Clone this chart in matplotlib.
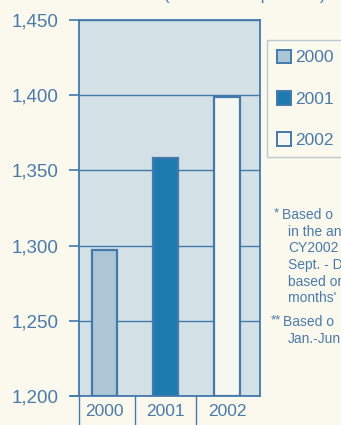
import matplotlib.pyplot as plt
from matplotlib.patches import Patch

years = ['2000', '2001', '2002']
values = [1297, 1358, 1399]
yticks = [1200, 1250, 1300, 1350, 1400, 1450]
# footnotes, as much as shows before the right edge
notes = ['Based o', 'in the an', 'CY2002', 'Sept. - D', 'based or', "months' r"]
notes2 = ['Based o', 'Jan.-Jun']

blue = '#4479ac'
txt = '#4b7aa9'
bg = '#fbf9ee'
bar_colors = ['#adc6d5', '#1d7bb0', '#f7f7f1']

plt.rcParams['font.family'] = ['Liberation Sans', 'DejaVu Sans']

fig = plt.figure(figsize=(3.41, 4.25), dpi=100, facecolor=bg)
ax = fig.add_axes([79 / 341, 1 - 396 / 425, 181 / 341, 376 / 425])
ax.set_facecolor('#d3e0e6')

x = range(len(years))
ax.bar(x, [v - 1200 for v in values], bottom=1200, width=0.41,
       color=bar_colors, edgecolor=blue, linewidth=1.6, zorder=3)

ax.set_ylim(1200, 1450)
ax.set_xlim(-0.42, 2.54)
ax.set_yticks(yticks)
ax.set_yticklabels(['{:,}'.format(t) for t in yticks], fontsize=13.5, color=txt)
ax.tick_params(axis='y', length=7, width=1.2, color=blue, pad=8)
ax.set_xticks([])
ax.grid(axis='y', color=blue, linewidth=1.0, zorder=1)
for s in ax.spines.values():
    s.set_color(blue)
    s.set_linewidth(1.3)

# year labels in little cells under the axis
for i, y in enumerate(years):
    ax.text(i, -0.02, y, transform=ax.get_xaxis_transform(), ha='center', va='top',
            fontsize=12.5, color=txt)
for sep in [-0.42, 0.5, 1.5]:
    ax.plot([sep, sep], [0, -0.1], transform=ax.get_xaxis_transform(),
            color=blue, linewidth=1.0, clip_on=False)
ax.plot([-0.55, -0.42], [0, 0], transform=ax.get_xaxis_transform(),
        color=blue, linewidth=1.3, clip_on=False)

handles = [Patch(facecolor=c, edgecolor=blue, linewidth=1.4) for c in bar_colors]
leg = fig.legend(handles, years, loc='upper left', bbox_to_anchor=(267 / 341, 1 - 40 / 425),
                 fontsize=12.5, frameon=True, fancybox=False, labelspacing=1.45,
                 handlelength=0.85, handleheight=0.85, handletextpad=0.2,
                 borderpad=0.55, borderaxespad=0)
leg.get_frame().set_edgecolor('#a9bccb')
leg.get_frame().set_facecolor(bg)
leg.get_frame().set_linewidth(1.0)
for t in leg.get_texts():
    t.set_color(txt)

fig.text(274 / 341, 1 - 213 / 425, '*', fontsize=9.5, color=txt, va='center')
for k, line in enumerate(notes):
    x0 = 282 if k == 0 else 288
    fig.text(x0 / 341, 1 - (215 + k * 16.7) / 425, line, fontsize=10, color=txt, va='center')
fig.text(271 / 341, 1 - 320 / 425, '**', fontsize=9.5, color=txt, va='center')
for k, line in enumerate(notes2):
    x0 = 283 if k == 0 else 288
    fig.text(x0 / 341, 1 - (322 + k * 16.7) / 425, line, fontsize=10, color=txt, va='center')

fig.text(245 / 341, 1.0, '(in thousand persons)', ha='center', va='baseline', fontsize=12, color=txt)

fig.savefig('out.png', dpi=100, facecolor=bg)
